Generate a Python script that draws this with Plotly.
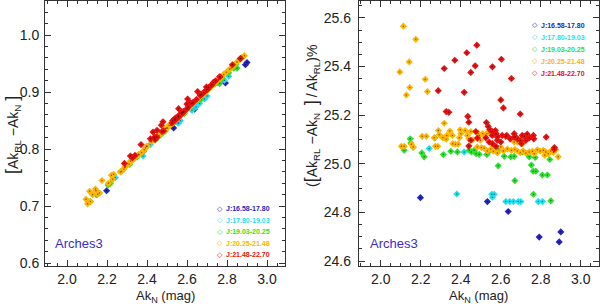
import plotly.graph_objects as go

# ---- data (Ak_N, percentage, difference) ----
groups = ["J:16.58-17.80", "J:17.80-19.03", "J:19.03-20.25", "J:20.25-21.48", "J:21.48-22.70"]
colors = ["#2424c0", "#1ee0f0", "#2ee02e", "#ffb400", "#e81010"]

akn_blue = [2.198, 2.533, 2.637, 2.792, 2.900, 2.892]
pct_blue = [24.861, 24.845, 24.804, 24.699, 24.720, 24.679]
dif_blue = [0.727, 0.837, 0.870, 0.916, 0.952, 0.948]

akn_cyan = [2.242, 2.417, 2.380, 2.555, 2.567, 2.558, 2.625, 2.645, 2.663, 2.687, 2.700, 2.787, 2.808]
pct_cyan = [25.063, 25.049, 24.876, 24.875, 24.875, 24.863, 24.845, 24.845, 24.845, 24.845, 24.845, 24.845, 24.845]
dif_cyan = [0.750, 0.808, 0.788, 0.846, 0.850, 0.846, 0.868, 0.874, 0.880, 0.888, 0.893, 0.921, 0.928]

akn_green = [2.147, 2.150, 2.162, 2.117, 2.205, 2.217, 2.270, 2.313, 2.350, 2.383, 2.442, 2.453,
             2.467, 2.477, 2.492, 2.530, 2.542, 2.587, 2.583, 2.617, 2.650, 2.667, 2.708, 2.733,
             2.742, 2.753, 2.762, 2.775, 2.808, 2.833, 2.845, 2.772, 2.587, 2.670, 2.763, 2.850]
pct_green = [25.103, 25.086, 25.068, 25.056, 25.045, 25.029, 25.107, 25.038, 25.052, 25.049, 25.056, 25.049,
             25.056, 25.042, 25.039, 25.038, 25.052, 25.063, 25.049, 25.031, 25.029, 25.031, 25.049, 25.042,
             25.029, 24.995, 24.970, 24.970, 24.954, 24.954, 25.018, 25.026, 24.992, 24.931, 24.875, 24.848]
dif_green = [0.720, 0.720, 0.723, 0.708, 0.737, 0.740, 0.761, 0.773, 0.786, 0.796, 0.816, 0.820,
             0.825, 0.828, 0.832, 0.845, 0.850, 0.865, 0.863, 0.874, 0.885, 0.890, 0.905, 0.913,
             0.915, 0.917, 0.919, 0.924, 0.934, 0.942, 0.949, 0.925, 0.862, 0.887, 0.915, 0.942]

akn_orange = [2.113, 2.175, 2.142, 2.095, 2.222, 2.145, 2.233, 2.128, 2.317, 2.288, 2.292, 2.330,
              2.345, 2.358, 2.397, 2.400, 2.422, 2.433, 2.450, 2.487, 2.493, 2.510, 2.530, 2.542,
              2.207, 2.228, 2.267, 2.273, 2.285, 2.310, 2.327, 2.360, 2.373, 2.387, 2.393, 2.440,
              2.460, 2.498, 2.103, 2.117, 2.153, 2.162, 2.482, 2.503, 2.517, 2.533, 2.550, 2.563,
              2.583, 2.600, 2.613, 2.633, 2.653, 2.667, 2.670, 2.683, 2.697, 2.712, 2.725, 2.742,
              2.758, 2.767, 2.783, 2.797, 2.813, 2.825, 2.837, 2.850, 2.863, 2.875, 2.887, 2.820,
              2.683, 2.708]
pct_orange = [25.566, 25.512, 25.419, 25.378, 25.348, 25.314, 25.297, 25.283, 25.167, 25.137, 25.120, 25.117,
              25.135, 25.117, 25.140, 25.124, 25.137, 25.117, 25.133, 25.124, 25.117, 25.124, 25.124, 25.127,
              25.113, 25.113, 25.107, 25.072, 25.072, 25.107, 25.101, 25.083, 25.081, 25.081, 25.107, 25.103,
              25.099, 25.097, 25.072, 25.072, 25.081, 25.069, 25.069, 25.067, 25.064, 25.053, 25.061, 25.052,
              25.045, 25.069, 25.053, 25.061, 25.056, 25.090, 25.059, 25.053, 25.046, 25.053, 25.045, 25.049,
              25.052, 25.042, 25.058, 25.053, 25.056, 25.049, 25.042, 25.053, 25.047, 25.058, 25.029, 25.035,
              25.090, 25.083]
dif_orange = [0.726, 0.745, 0.730, 0.712, 0.754, 0.727, 0.756, 0.720, 0.779, 0.768, 0.769, 0.782,
              0.787, 0.791, 0.805, 0.805, 0.813, 0.816, 0.822, 0.834, 0.836, 0.842, 0.849, 0.853,
              0.740, 0.747, 0.760, 0.761, 0.765, 0.774, 0.780, 0.790, 0.794, 0.799, 0.802, 0.818,
              0.824, 0.837, 0.704, 0.708, 0.721, 0.723, 0.830, 0.837, 0.842, 0.847, 0.853, 0.857,
              0.863, 0.870, 0.873, 0.881, 0.887, 0.893, 0.893, 0.897, 0.901, 0.907, 0.911, 0.916,
              0.922, 0.924, 0.931, 0.935, 0.940, 0.944, 0.948, 0.953, 0.957, 0.961, 0.964, 0.942,
              0.899, 0.907]

akn_red = [2.317, 2.370, 2.430, 2.480, 2.450, 2.472, 2.558, 2.603, 2.653, 2.287, 2.417, 2.600,
           2.613, 2.697, 2.327, 2.340, 2.435, 2.440, 2.528, 2.537, 2.545, 2.557, 2.573, 2.557,
           2.577, 2.583, 2.607, 2.630, 2.667, 2.673, 2.698, 2.707, 2.718, 2.732, 2.743, 2.763,
           2.765, 2.827, 2.868, 2.867, 2.475, 2.483, 2.525, 2.542, 2.558, 2.575, 2.583, 2.600,
           2.625, 2.647, 2.667, 2.703, 2.725, 2.683, 2.440, 2.450]
pct_red = [25.392, 25.426, 25.457, 25.488, 25.376, 25.403, 25.399, 25.430, 25.351, 25.301, 25.294, 25.263,
           25.230, 25.205, 25.215, 25.212, 25.195, 25.171, 25.170, 25.154, 25.141, 25.133, 25.137, 25.117,
           25.124, 25.110, 25.117, 25.117, 25.124, 25.110, 25.096, 25.117, 25.113, 25.122, 25.107, 25.117,
           25.103, 25.110, 25.067, 25.060, 25.133, 25.106, 25.107, 25.090, 25.083, 25.072, 25.097, 25.090,
           25.113, 25.103, 25.110, 25.083, 25.096, 25.103, 25.073, 25.097]
dif_red = [0.788, 0.808, 0.830, 0.848, 0.833, 0.842, 0.871, 0.888, 0.901, 0.775, 0.818, 0.879,
           0.882, 0.909, 0.785, 0.789, 0.820, 0.821, 0.850, 0.853, 0.855, 0.858, 0.864, 0.858,
           0.865, 0.866, 0.874, 0.882, 0.895, 0.896, 0.904, 0.908, 0.911, 0.917, 0.920, 0.927,
           0.927, 0.948, 0.959, 0.959, 0.831, 0.832, 0.846, 0.851, 0.856, 0.862, 0.865, 0.871,
           0.880, 0.887, 0.894, 0.905, 0.913, 0.899, 0.817, 0.821]

akn = [akn_blue, akn_cyan, akn_green, akn_orange, akn_red]
pct = [pct_blue, pct_cyan, pct_green, pct_orange, pct_red]
dif = [dif_blue, dif_cyan, dif_green, dif_orange, dif_red]

x_ticks = [2.0, 2.2, 2.4, 2.6, 2.8, 3.0]
left_y_ticks = [0.6, 0.7, 0.8, 0.9, 1.0]
right_y_ticks = [24.6, 24.8, 25.0, 25.2, 25.4, 25.6]

fig = go.Figure()
for i in range(5):
    for xa, ya, yv in (("x", "y", dif[i]), ("x2", "y2", pct[i])):
        fig.add_trace(go.Scatter(
            x=akn[i], y=yv, xaxis=xa, yaxis=ya, mode="markers",
            marker=dict(symbol="diamond", size=5.5, color=colors[i], line=dict(width=0)),
            showlegend=False, hoverinfo="skip"))
        fig.add_trace(go.Scatter(
            x=akn[i], y=yv, xaxis=xa, yaxis=ya, mode="markers",
            marker=dict(symbol="circle", size=1.5, color="rgba(0,0,0,0.5)", line=dict(width=0)),
            showlegend=False, hoverinfo="skip"))

FONT = "Liberation Sans, Arial, sans-serif"
axis_font = dict(family=FONT, size=14, color="#222")
common = dict(showline=True, linecolor="#333", linewidth=1, mirror="ticks",
              ticks="inside", ticklen=6, tickcolor="#333", showgrid=False, zeroline=False,
              tickfont=axis_font, automargin=False)
xminor = dict(dtick=0.05, tick0=2.0, ticks="inside", ticklen=3, tickcolor="#333")

fig.update_layout(
    width=600, height=304, margin=dict(l=0, r=0, t=0, b=0),
    paper_bgcolor="white", plot_bgcolor="white",
    xaxis=dict(domain=[0.075, 0.475], range=[1.89, 3.09], tickvals=x_ticks,
               ticktext=[f"{v:.1f}" for v in x_ticks], minor=xminor,
               anchor="y", ticklabelstandoff=0, **common),
    yaxis=dict(domain=[0.125, 0.997], range=[0.595, 1.06], tickvals=left_y_ticks,
               ticktext=[f"{v:.1f}" for v in left_y_ticks],
               minor=dict(dtick=0.02, tick0=0.6, ticks="inside", ticklen=3, tickcolor="#333"),
               anchor="x", ticklabelstandoff=2, **common),
    xaxis2=dict(domain=[0.598, 0.998], range=[1.89, 3.09], tickvals=x_ticks,
                ticktext=[f"{v:.1f}" for v in x_ticks], minor=xminor,
                anchor="y2", ticklabelstandoff=0, **common),
    yaxis2=dict(domain=[0.125, 0.997], range=[24.58, 25.67], tickvals=right_y_ticks,
                ticktext=[f"{v:.1f}" for v in right_y_ticks],
                minor=dict(dtick=0.05, tick0=24.6, ticks="inside", ticklen=3, tickcolor="#333"),
                anchor="x2", ticklabelstandoff=4, **common),
)

ann = []
title_font = dict(family=FONT, size=14, color="#222")
for xc in (0.275, 0.798):
    ann.append(dict(text="Ak<sub>N</sub> (mag)", x=xc, y=1 - 296 / 304, xref="paper", yref="paper",
                    showarrow=False, xanchor="center", yanchor="middle",
                    font=dict(family=FONT, size=13, color="#222")))
ann.append(dict(text='<span style="font-size:18px">[</span>Ak<sub>RL</sub>\u00a0\u2212Ak<sub>N</sub>\u00a0<span style="font-size:18px">]</span>',
                x=12 / 600, y=1 - 135 / 304, xref="paper", yref="paper", showarrow=False, textangle=-90,
                xanchor="center", yanchor="middle", font=title_font))
ann.append(dict(text='(<span style="font-size:18px">[</span>Ak<sub>RL</sub>\u00a0\u2212Ak<sub>N</sub>\u00a0\u00a0<span style="font-size:18px">]</span>\u2009/\u2009Ak<sub>RL</sub>)%',
                x=312 / 600, y=1 - 116 / 304, xref="paper", yref="paper", showarrow=False, textangle=-90,
                xanchor="center", yanchor="middle", font=title_font))
for xl in (53, 368):
    ann.append(dict(text="Arches3", x=xl / 600, y=1 - 243 / 304, xref="paper", yref="paper",
                    showarrow=False, xanchor="left", yanchor="middle",
                    font=dict(family=FONT, size=13, color="#3b2bd0")))
for (mx, y0, dy) in ((220, 208.5, 11.5), (535, 25, 12.1)):
    for i, g in enumerate(groups):
        yy = 1 - (y0 + dy * i) / 304
        ann.append(dict(text="\u25c7", x=mx / 600, y=yy, xref="paper", yref="paper", showarrow=False,
                        xanchor="center", yanchor="middle",
                        font=dict(family="DejaVu Sans", size=7, color=colors[i])))
        ann.append(dict(text="<b>" + g + "</b>", x=(mx + 4) / 600, y=yy, xref="paper", yref="paper",
                        showarrow=False, xanchor="left", yanchor="middle",
                        font=dict(family=FONT, size=7, color=colors[i])))
fig.update_layout(annotations=ann)

fig.write_html("out.html", config={"displayModeBar": False},
               post_script="document.body.style.margin='0px';")
